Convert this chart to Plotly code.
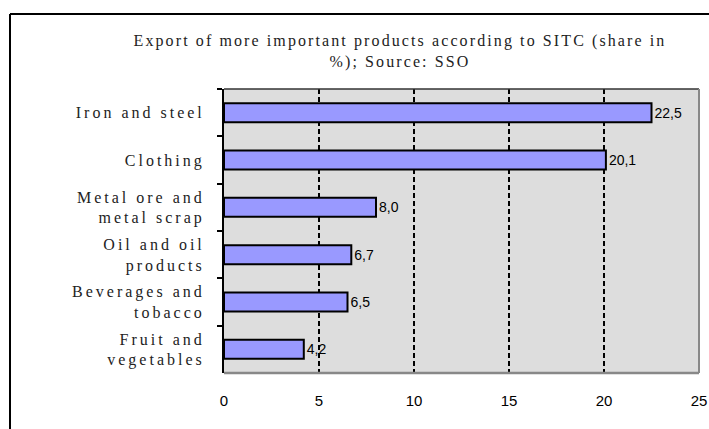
import plotly.graph_objects as go

categories = ["Iron and steel", "Clothing", "Metal ore and<br>metal scrap",
              "Oil and oil<br>products", "Beverages and<br>tobacco", "Fruit and<br>vegetables"]
values = [22.5, 20.1, 8.0, 6.7, 6.5, 4.2]
value_labels = [f"{v:.1f}".replace(".", ",") for v in values]
x_ticks = [0, 5, 10, 15, 20, 25]
title_text = "Export of more important products according to SITC (share in<br>%); Source: SSO"

W, H = 709, 429
L, R, T, B = 224, 10, 89, 56
pw, ph = W - L - R, H - T - B

fig = go.Figure()
fig.add_trace(go.Bar(
    x=values, y=categories, orientation="h",
    marker=dict(color="#9999FF", line=dict(color="black", width=2)),
    width=0.4,
    text=value_labels, textposition="outside", cliponaxis=False,
    textfont=dict(family="Liberation Sans", size=14, color="black"),
))

def px_x(p):
    return (p - L) / pw

def px_y(p):
    return (H - B - p) / ph

fig.update_layout(
    width=W, height=H,
    margin=dict(l=L, r=R, t=T, b=B),
    paper_bgcolor="white",
    plot_bgcolor="#DDDDDD",
    showlegend=False,
    title=dict(text=title_text, x=400 / W, xanchor="center", y=1 - 46 / H, yanchor="middle",
               font=dict(family="Liberation Serif", size=16, color="#222222")),
    xaxis=dict(range=[0, 25], tickvals=x_ticks, showgrid=True, griddash="5px,3px",
               gridcolor="black", gridwidth=2, zeroline=False, automargin=False,
               showline=False, ticks="", ticklabelstandoff=17,
               tickfont=dict(family="Liberation Sans", size=15, color="black")),
    yaxis=dict(autorange="reversed", showline=True, linecolor="black", linewidth=2,
               ticks="outside", tickson="boundaries", ticklen=5, tickcolor="black",
               tickwidth=2, showgrid=False, ticklabelstandoff=14, automargin=False,
               tickfont=dict(family="Liberation Serif", size=16, color="#222222")),
    shapes=[
        # plot frame (top, right, bottom)
        dict(type="line", xref="paper", yref="paper", x0=0, x1=1, y0=1, y1=1,
             line=dict(color="#333333", width=1.5), layer="above"),
        dict(type="line", xref="paper", yref="paper", x0=1, x1=1, y0=0, y1=1,
             line=dict(color="#888888", width=2), layer="above"),
        dict(type="line", xref="paper", yref="paper", x0=0, x1=1, y0=0, y1=0,
             line=dict(color="#888888", width=2.5), layer="above"),
        # outer border
        dict(type="line", xref="paper", yref="paper", x0=px_x(10), x1=px_x(720),
             y0=px_y(14), y1=px_y(14), line=dict(color="black", width=2), layer="above"),
        dict(type="line", xref="paper", yref="paper", x0=px_x(10), x1=px_x(10),
             y0=px_y(14), y1=px_y(440), line=dict(color="black", width=2), layer="above"),
    ],
)

post = """
document.body.style.margin = '0';
document.body.style.overflow = 'hidden';
var gd = document.getElementById('{plot_id}');
gd.querySelectorAll('.ytick text').forEach(function(t){ t.style.letterSpacing = '3px'; });
gd.querySelectorAll('.gtitle').forEach(function(t){ t.style.letterSpacing = '2.1px'; });
"""

fig.write_html("out.html", post_script=post, config={"displayModeBar": False})
